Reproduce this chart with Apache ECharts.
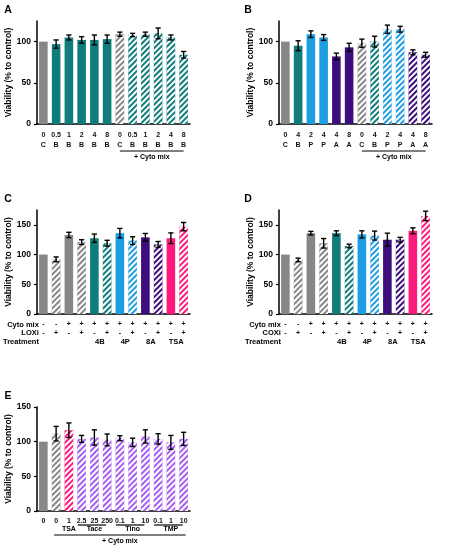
<!DOCTYPE html>
<html>
<head>
<meta charset="utf-8">
<script src="https://cdn.jsdelivr.net/npm/echarts@6/dist/echarts.min.js"></script>
<style>
html,body{margin:0;padding:0;background:#fff}
#main{width:462px;height:550px}
</style>
</head>
<body>
<div id="main"></div>
<script>
// ---- panel A : B alone / with cyto mix
var aConc = ['0','0.5','1','2','4','8','0','0.5','1','2','4','8'];
var aDrug = ['C','B','B','B','B','B','C','B','B','B','B','B'];
var aCyto = [0,0,0,0,0,0,1,1,1,1,1,1];
var aMean = [100,97,105,102,102,103,109,108,109,110,105,84];
var aErr  = [0,5,3,4,6,5,2.5,2,2.5,6.5,3,4];

// ---- panel B
var bConc = ['0','4','2','4','4','8','0','4','2','4','4','8'];
var bDrug = ['C','B','P','P','A','A','C','B','P','P','A','A'];
var bCyto = [0,0,0,0,0,0,1,1,1,1,1,1];
var bMean = [100,95,109,105,82,93,98,100,115,115,87,84];
var bErr  = [0,6,4,3.5,4,5,5,6.5,5,3.5,3,3];

// ---- panel C : LOXi
var cCyto  = ['-','-','+','+','+','+','+','+','+','+','+','+'];
var cLoxi  = ['-','+','-','+','-','+','-','+','-','+','-','+'];
var cTreat = ['','','','','4B','4B','4P','4P','8A','8A','TSA','TSA'];
var cMean  = [100,92,133,121,127.5,119,136,123.5,129,117,127.5,147];
var cErr   = [0,4,4.5,4,7,5,8,6.5,6.5,5,9,7];

// ---- panel D : COXi
var dCyto  = ['-','-','+','+','+','+','+','+','+','+','+','+'];
var dCoxi  = ['-','+','-','+','-','+','-','+','-','+','-','+'];
var dTreat = ['','','','','4B','4B','4P','4P','8A','8A','TSA','TSA'];
var dMean  = [100,91,136,119,136,114.5,134,132,125,125,140,165];
var dErr   = [0,3,3,8,4,3,6,7.5,11,4,5,8];

// ---- panel E
var eDose = ['0','0','1','2.5','25','250','0.1','1','10','0.1','1','10'];
var eDrug = ['','','TSA','Tace','Tace','Tace','Tino','Tino','Tino','TMP','TMP','TMP'];
var eCyto = [0,1,1,1,1,1,1,1,1,1,1,1];
var eMean = [100,111.5,116.5,104,106,102.5,105,99,107.5,104,99,104];
var eErr  = [0,10.5,10.5,5,11,8.5,3.5,6,9.5,7.5,10,9.5];

var FONT = 'Liberation Sans, Arial, sans-serif';
var GRAY = '#878787', TEAL = '#0f7d7b', BLUE = '#1d9de2', PURPLE = '#3d0c7d', PINK = '#fc1a7d', LAV = '#a65ef2';
var drugColor = {'': GRAY, C: GRAY, B: TEAL, P: BLUE, A: PURPLE, '4B': TEAL, '4P': BLUE, '8A': PURPLE,
                 TSA: PINK, Tace: LAV, Tino: LAV, TMP: LAV};
var HATCH = {symbol: 'rect', symbolSize: 1, dashArrayX: [1, 0], dashArrayY: [1.6, 1.5],
             rotation: -Math.PI / 4, color: '#ffffff'};

var chart = echarts.init(document.getElementById('main'));

var option = {
  animation: false,
  textStyle: {fontFamily: FONT},
  grid: [], xAxis: [], yAxis: [], series: []
};

function errorBar(params, api) {
  var x = api.value(0), m = api.value(1), e = api.value(2);
  if (!e) return null;
  var t = api.coord([x, m + e]), b = api.coord([x, m - e]);
  var s = {stroke: '#000', lineWidth: 1.4};
  return {type: 'group', children: [
    {type: 'line', shape: {x1: t[0], y1: t[1], x2: b[0], y2: b[1]}, style: s},
    {type: 'line', shape: {x1: t[0] - 2.6, y1: t[1], x2: t[0] + 2.6, y2: t[1]}, style: s},
    {type: 'line', shape: {x1: b[0] - 2.6, y1: b[1], x2: b[0] + 2.6, y2: b[1]}, style: s}
  ]};
}

function addPanel(k, box, yMax, ticks, mean, err, colors, hatched, fmt, lh) {
  option.grid.push(box);
  option.xAxis.push({
    type: 'category', gridIndex: k,
    data: mean.map(function (v, i) { return 'p' + k + '_' + i; }),
    axisLine: {lineStyle: {color: '#000', width: 1.5}},
    axisTick: {alignWithLabel: true, interval: 0, length: 3, lineStyle: {color: '#000', width: 1.2}},
    axisLabel: {interval: 0, fontSize: 7, fontWeight: 'bold', color: '#111', lineHeight: lh, margin: 6,
                formatter: function (v, i) { return fmt(i); }}
  });
  option.yAxis.push({
    type: 'value', gridIndex: k, min: 0, max: yMax, interval: 50,
    axisLine: {show: true, lineStyle: {color: '#000', width: 1.5}},
    axisTick: {show: true, length: 3, customValues: ticks, lineStyle: {color: '#000', width: 1.2}},
    axisLabel: {fontSize: 8.5, fontWeight: 'bold', color: '#000', margin: 6, customValues: ticks},
    splitLine: {show: false},
    name: 'Viability (% to control)', nameLocation: 'middle', nameGap: 21,
    nameTextStyle: {fontSize: 8.5, fontWeight: 'bold', color: '#000'}
  });
  option.series.push({
    type: 'bar', xAxisIndex: k, yAxisIndex: k, barWidth: 8.6, silent: true,
    data: mean.map(function (v, i) {
      var st = {color: colors[i]};
      if (hatched[i]) st.decal = HATCH;
      return {value: v, itemStyle: st};
    })
  });
  option.series.push({
    type: 'custom', xAxisIndex: k, yAxisIndex: k, z: 10, silent: true,
    encode: {x: 0, y: 1},
    data: mean.map(function (v, i) { return [i, v, err[i]]; }),
    renderItem: errorBar
  });
}

addPanel(0, {left: 37, top: 21, width: 153, height: 103}, 125, [0, 50, 100], aMean, aErr,
  aDrug.map(function (d) { return drugColor[d]; }), aCyto,
  function (i) { return aConc[i] + '\n' + aDrug[i]; }, 10);
addPanel(1, {left: 279, top: 21, width: 153, height: 103}, 125, [0, 50, 100], bMean, bErr,
  bDrug.map(function (d) { return drugColor[d]; }), bCyto,
  function (i) { return bConc[i] + '\n' + bDrug[i]; }, 10);
addPanel(2, {left: 37, top: 210, width: 153, height: 104}, 175, [0, 50, 100, 150], cMean, cErr,
  cTreat.map(function (d) { return drugColor[d]; }), cLoxi.map(function (s) { return s === '+'; }),
  function (i) { return cCyto[i] + '\n' + cLoxi[i]; }, 8.5);
addPanel(3, {left: 279, top: 210, width: 153, height: 104}, 175, [0, 50, 100, 150], dMean, dErr,
  dTreat.map(function (d) { return drugColor[d]; }), dCoxi.map(function (s) { return s === '+'; }),
  function (i) { return dCyto[i] + '\n' + dCoxi[i]; }, 8.5);
addPanel(4, {left: 37, top: 407, width: 153, height: 104}, 150, [0, 50, 100, 150], eMean, eErr,
  eDrug.map(function (d) { return drugColor[d]; }), eCyto,
  function (i) { return eDose[i]; }, 9);

chart.setOption(option);

// ---- annotations (brackets, row titles, panel letters) placed from the axes
var g = [];
function xpx(k, i) { return chart.convertToPixel({xAxisIndex: k}, i); }
function ypx(k, v) { return chart.convertToPixel({yAxisIndex: k}, v); }
function txt(x, y, s, size, align) {
  g.push({type: 'text', x: x, y: y, silent: true,
    style: {text: s, fill: '#000', font: 'bold ' + size + 'px ' + FONT,
            textAlign: align || 'center', textVerticalAlign: 'middle'}});
}
function hline(x1, x2, y) {
  g.push({type: 'line', silent: true, shape: {x1: x1, y1: y, x2: x2, y2: y},
          style: {stroke: '#000', lineWidth: 1.2}});
}

[['A', 0], ['B', 1], ['C', 2], ['D', 3], ['E', 4]].forEach(function (p) {
  var k = p[1];
  var gx = k % 2 === 0 ? 8 : 248;
  var gy = ypx(k, k === 4 ? 150 : (k < 2 ? 125 : 175)) - 11;
  txt(gx, gy, p[0], 10.5, 'center');
});

// A, B: cyto mix bracket
[[0, aCyto], [1, bCyto]].forEach(function (p) {
  var k = p[0], cy = p[1];
  var first = cy.indexOf(1), last = cy.lastIndexOf(1);
  var y0 = ypx(k, 0);
  var x1 = xpx(k, first), x2 = xpx(k, last);
  hline(x1, x2, y0 + 27);
  txt((x1 + x2) / 2, y0 + 33, '+ Cyto mix', 7);
});

// C, D: row titles and treatment labels
[[2, 'LOXi', cTreat], [3, 'COXi', dTreat]].forEach(function (p) {
  var k = p[0], tr = p[2];
  var y0 = ypx(k, 0);
  var xl = xpx(k, 0) - 4.5;
  txt(xl, y0 + 10.5, 'Cyto mix', 7.5, 'right');
  txt(xl, y0 + 19, p[1], 7.5, 'right');
  txt(xl, y0 + 27.5, 'Treatment', 7.5, 'right');
  var i = 0;
  while (i < tr.length) {
    var j = i;
    while (j + 1 < tr.length && tr[j + 1] === tr[i]) j++;
    if (tr[i]) txt((xpx(k, i) + xpx(k, j)) / 2 - 1, y0 + 27.5, tr[i], 7.5);
    i = j + 1;
  }
});

// E: drug groups and cyto mix bracket
(function () {
  var k = 4, y0 = ypx(k, 0);
  var i = 0;
  while (i < eDrug.length) {
    var j = i;
    while (j + 1 < eDrug.length && eDrug[j + 1] === eDrug[i]) j++;
    if (eDrug[i]) {
      var x1 = xpx(k, i), x2 = xpx(k, j);
      if (j > i) hline(x1 - 4, x2 - 1, y0 + 14);
      txt((x1 + x2) / 2, y0 + 18.5, eDrug[i], 7);
    }
    i = j + 1;
  }
  var f = eCyto.indexOf(1), l = eCyto.lastIndexOf(1);
  hline(xpx(k, f) - 2, xpx(k, l) + 2, y0 + 24);
  txt((xpx(k, f) + xpx(k, l)) / 2, y0 + 30.5, '+ Cyto mix', 7);
})();

chart.setOption({graphic: g});
</script>
</body>
</html>
